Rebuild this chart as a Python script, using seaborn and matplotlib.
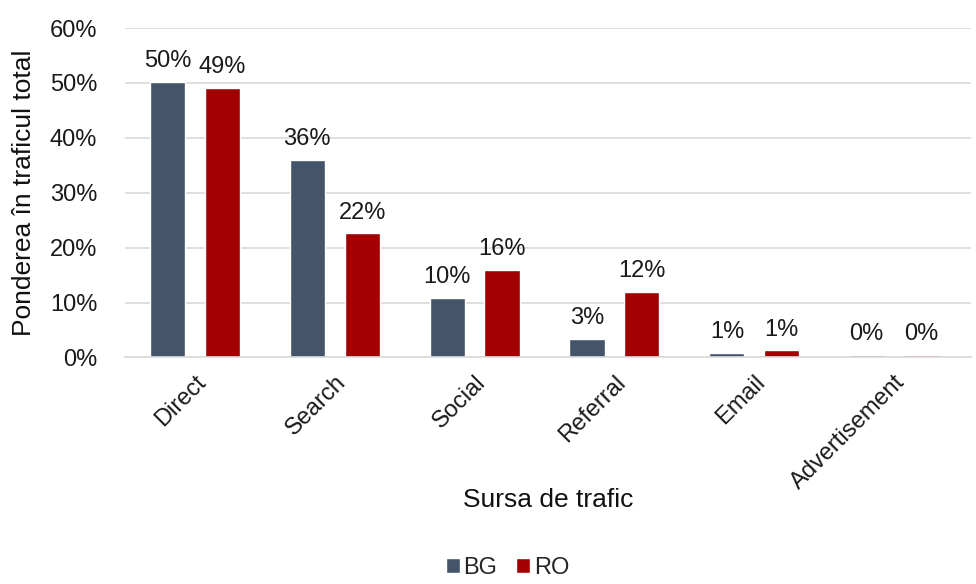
import pandas as pd
import matplotlib.pyplot as plt
import seaborn as sns
from matplotlib.ticker import PercentFormatter

sources = ['Direct', 'Search', 'Social', 'Referral', 'Email', 'Advertisement']
bg_share = [50.2, 36.0, 10.8, 3.4, 0.8, 0.5]
ro_share = [49.1, 22.6, 15.9, 11.9, 1.3, 0.5]
bg_labels = ['50%', '36%', '10%', '3%', '1%', '0%']
ro_labels = ['49%', '22%', '16%', '12%', '1%', '0%']

df = pd.DataFrame({
    'source': sources * 2,
    'share': bg_share + ro_share,
    'country': ['BG'] * len(sources) + ['RO'] * len(sources),
})

sns.set_style('white')
plt.rcParams['font.family'] = ['Liberation Sans', 'DejaVu Sans']

fig, ax = plt.subplots(figsize=(9.76, 5.84), dpi=100)
fig.subplots_adjust(left=0.128, right=0.995, top=0.952, bottom=0.388)

sns.barplot(data=df, x='source', y='share', hue='country',
            palette={'BG': '#44546a', 'RO': '#a00000'},
            width=0.785, gap=0.36, ax=ax, saturation=1)

for cont, labels in zip(ax.containers, [bg_labels, ro_labels]):
    ax.bar_label(cont, labels=labels, padding=7, fontsize=17, color='#1a1a1a')

ax.set_ylim(0, 60)
ax.set_yticks(range(0, 61, 10))
ax.yaxis.set_major_formatter(PercentFormatter(decimals=0))
ax.grid(axis='y', color='#d9d9d9', linewidth=1.2)
ax.set_axisbelow(True)
for s in ['top', 'right', 'left']:
    ax.spines[s].set_visible(False)
ax.spines['bottom'].set_color('#d9d9d9')
ax.spines['bottom'].set_linewidth(1.2)
ax.tick_params(axis='both', length=0, labelsize=17, colors='#1a1a1a')
ax.tick_params(axis='y', pad=20)
ax.tick_params(axis='x', pad=10)
plt.setp(ax.get_xticklabels(), rotation=45, ha='right', rotation_mode='anchor')
ax.set_xlim(-0.5, 5.55)

ax.set_ylabel('Ponderea în traficul total', fontsize=19, color='#111111', labelpad=10)
ax.set_xlabel('Sursa de trafic', fontsize=19, color='#111111', labelpad=-4)

handles, labels = ax.get_legend_handles_labels()
ax.get_legend().remove()
fig.legend(handles, labels, loc='lower center', bbox_to_anchor=(0.52, 0.0), ncol=2,
           frameon=False, fontsize=17, handlelength=0.6, handleheight=0.6,
           handletextpad=0.15, columnspacing=0.8, borderaxespad=0.1,
           borderpad=0.1)

fig.savefig('out.png', dpi=100)
